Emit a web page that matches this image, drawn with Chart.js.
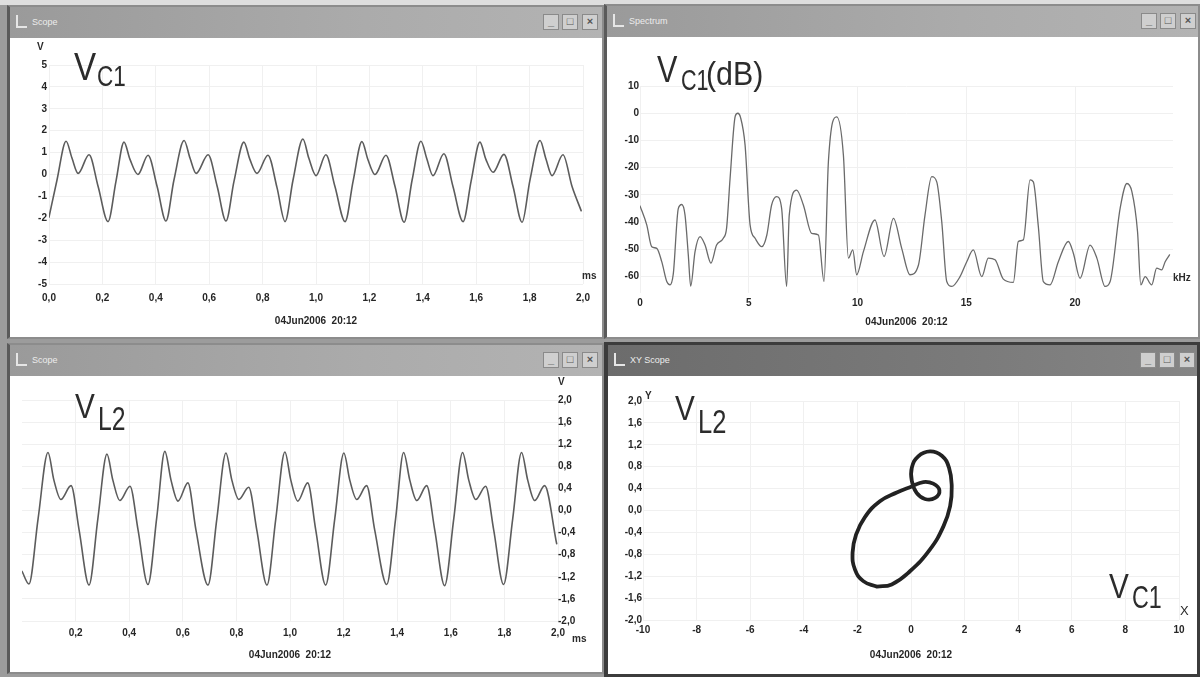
<!DOCTYPE html>
<html>
<head>
<meta charset="utf-8">
<title>Scope windows</title>
<script src="https://cdn.jsdelivr.net/npm/chart.js@4.4.1/dist/chart.umd.min.js"></script>
<style>
  html, body { margin: 0; padding: 0; }
  body { width: 1200px; height: 677px; position: relative; overflow: hidden; background: #9c9c9c;
         font-family: "Liberation Sans", Arial, sans-serif; }
  .strip { position: absolute; left: 0; top: 0; width: 1200px; height: 5px; background: #dedede; }
  .win { position: absolute; box-sizing: border-box; background: #fff; border: 2px solid #8c8c8c; border-left: 3px solid #5a5a5a; }
  .win.active { border: 3px solid #3c3c3c; border-left-width: 4px; }
  .bar { position: absolute; left: 0; right: 0; top: 0; height: 31px;
         background: linear-gradient(to right, #9a9a9a, #ababab 60%, #b3b3b3); }
  .active .bar { background: linear-gradient(to right, #6c6c6c, #7a7a7a 60%, #858585); }
  .bar .name { position: absolute; left: 22px; top: 10px; font-size: 9px; color: #ececec; }
  .bar .ico { position: absolute; left: 6px; top: 8px; width: 9px; height: 11px; border-left: 2px solid #e6e6e6; border-bottom: 2px solid #e6e6e6; }
  .btn { position: absolute; top: 7px; width: 16px; height: 16px; box-sizing: border-box; background: #cfcfcf;
         border: 1px solid #8a8a8a; font-size: 11px; line-height: 13px; text-align: center; color: #555; font-weight: bold; }
  canvas { position: absolute; }
  .big { position: absolute; line-height: 1; color: #2c2c2c; transform-origin: 0 0; white-space: nowrap; }
  .unit { position: absolute; font-size: 10px; font-weight: bold; color: #2a2a2a; line-height: 1; }
</style>
</head>
<body>
<div class="strip"></div>

<div class="win" style="left:7px;top:5px;width:597px;height:334px">
  <div class="bar"><span class="ico"></span><span class="name">Scope</span>
    <span class="btn" style="right:43px">_</span><span class="btn" style="right:24px">□</span><span class="btn" style="right:4px">×</span></div>
</div>
<div class="win" style="left:604px;top:4px;width:596px;height:335px">
  <div class="bar"><span class="ico"></span><span class="name">Spectrum</span>
    <span class="btn" style="right:41px">_</span><span class="btn" style="right:22px">□</span><span class="btn" style="right:2px">×</span></div>
</div>
<div class="win" style="left:7px;top:343px;width:597px;height:331px">
  <div class="bar"><span class="ico"></span><span class="name">Scope</span>
    <span class="btn" style="right:43px">_</span><span class="btn" style="right:24px">□</span><span class="btn" style="right:4px">×</span></div>
</div>
<div class="win active" style="left:604px;top:342px;width:596px;height:335px">
  <div class="bar"><span class="ico"></span><span class="name">XY Scope</span>
    <span class="btn" style="right:41px">_</span><span class="btn" style="right:22px">□</span><span class="btn" style="right:2px">×</span></div>
</div>

<canvas id="vc1" width="590" height="297" style="left:10px;top:38px"></canvas>
<canvas id="spectrum" width="590" height="297" style="left:608px;top:38px"></canvas>
<canvas id="vl2" width="590" height="296" style="left:10px;top:375px"></canvas>
<canvas id="xy" width="590" height="296" style="left:608px;top:376px"></canvas>

<!-- trace names -->
<div class="big" style="left:74px;top:47px;font-size:39px;transform:scaleX(0.85)">V</div>
<div class="big" style="left:97px;top:61px;font-size:30px;transform:scaleX(0.75)">C1</div>

<div class="big" style="left:657px;top:52px;font-size:36px;transform:scaleX(0.85)">V</div>
<div class="big" style="left:681px;top:65px;font-size:30px;transform:scaleX(0.72)">C1</div>
<div class="big" style="left:706px;top:57px;font-size:33px;transform:scaleX(0.92)">(dB)</div>

<div class="big" style="left:75px;top:388px;font-size:35px;transform:scaleX(0.85)">V</div>
<div class="big" style="left:98px;top:402px;font-size:33px;transform:scaleX(0.75)">L2</div>

<div class="big" style="left:675px;top:390px;font-size:35px;transform:scaleX(0.85)">V</div>
<div class="big" style="left:698px;top:404px;font-size:34px;transform:scaleX(0.75)">L2</div>
<div class="big" style="left:1109px;top:568px;font-size:35px;transform:scaleX(0.85)">V</div>
<div class="big" style="left:1132px;top:582px;font-size:31px;transform:scaleX(0.75)">C1</div>

<!-- axis units -->
<div class="unit" style="left:37px;top:42px">V</div>
<div class="unit" style="left:582px;top:271px">ms</div>
<div class="unit" style="left:1173px;top:273px">kHz</div>
<div class="unit" style="left:558px;top:377px">V</div>
<div class="unit" style="left:572px;top:634px">ms</div>
<div class="unit" style="left:645px;top:391px">Y</div>
<div class="unit" style="left:1180px;top:604px;font-size:13px;font-weight:normal">X</div>

<script>
const stamp = '04Jun2006  20:12';

// V(C1) against time, ms / V
const vc1Time = [0.000,
  0.030, 0.064, 0.086, 0.109, 0.150, 0.184, 0.221,
  0.251, 0.281, 0.303, 0.333, 0.371, 0.405, 0.438,
  0.468, 0.506, 0.528, 0.551, 0.596, 0.630, 0.663,
  0.693, 0.730, 0.752, 0.779, 0.820, 0.854, 0.884,
  0.914, 0.951, 0.973, 1.000, 1.037, 1.071, 1.109,
  1.139, 1.172, 1.194, 1.221, 1.262, 1.296, 1.330,
  1.360, 1.393, 1.415, 1.438, 1.479, 1.513, 1.551,
  1.581, 1.614, 1.636, 1.663, 1.704, 1.738, 1.772,
  1.801, 1.839, 1.861, 1.884, 1.925, 1.959, 1.993];
const vc1Volts = [-1.95,
  -0.25, 1.52, 0.75, 0.05, 0.90, -0.55, -2.15,
  -0.30, 1.48, 0.70, 0.00, 0.88, -0.55, -2.12,
  -0.25, 1.55, 0.75, 0.05, 0.90, -0.55, -2.12,
  -0.30, 1.48, 0.70, 0.05, 0.88, -0.60, -2.15,
  -0.25, 1.62, 0.75, -0.05, 0.90, -0.55, -2.15,
  -0.30, 1.50, 0.70, 0.00, 0.88, -0.55, -2.18,
  -0.25, 1.52, 0.72, -0.05, 0.95, -0.55, -2.15,
  -0.30, 1.48, 0.70, 0.10, 0.92, -0.55, -2.18,
  -0.28, 1.55, 0.72, -0.05, 0.90, -0.55, -1.65];

// spectrum of V(C1), kHz / dB
const spectrumKHz = [0.00, 0.31, 0.54, 0.77, 1.00, 1.23, 1.38, 1.53, 1.76, 1.92,
  2.07, 2.22, 2.33, 2.53, 2.76, 2.99, 3.26, 3.52, 3.83, 3.98,
  4.14, 4.38, 4.50, 4.62, 4.83, 5.06, 5.29, 5.60, 5.83, 6.05,
  6.28, 6.51, 6.74, 6.86, 7.20, 7.51, 7.89, 8.20, 8.46, 8.66,
  9.04, 9.35, 9.58, 9.78, 9.96, 10.27, 10.80, 11.22, 11.65, 12.03,
  12.41, 12.80, 13.10, 13.41, 13.64, 13.87, 14.10, 14.33, 14.71, 15.02,
  15.32, 15.71, 16.01, 16.32, 16.70, 17.16, 17.39, 17.62, 17.93, 18.08,
  18.31, 18.54, 18.85, 19.23, 19.69, 19.92, 20.23, 20.69, 21.00, 21.38,
  21.61, 22.07, 22.38, 22.61, 22.87, 23.02, 23.22, 23.52, 23.75, 23.98,
  24.14, 24.34];
const spectrumDb = [-34, -41, -49, -49.6, -54.5, -61.8, -63, -59, -35, -33.5,
  -37.4, -52, -63.5, -50.8, -45.3, -48.4, -55, -48.4, -45.9, -42.2,
  -24, -1, 0, -1.5, -11.7, -41, -45.9, -49, -44.7, -33.7,
  -30.6, -34.9, -63.6, -37.4, -28.2, -33.7, -44.1, -44.7, -61.8, -17.8,
  -1.3, -15.4, -53.2, -50.2, -59.3, -50.8, -39.2, -52.6, -38.6, -49.6,
  -59.3, -55.7, -37.4, -23.3, -25.2, -39.8, -61.8, -63.6, -60, -54.5,
  -50.2, -60, -53.2, -53.8, -60.9, -62.1, -47.1, -46.5, -24.5, -25.2,
  -41.6, -61.8, -63, -54.5, -47.1, -51.4, -60.6, -48.4, -53.2, -63.6,
  -61.8, -34.9, -25.8, -28.8, -43.5, -63, -60, -63, -56.9, -57.5,
  -54.5, -52];

// V(L2) against time, ms / V
const vl2Time = [0.000, 0.026,
  0.060, 0.097, 0.119, 0.145, 0.183, 0.213, 0.250,
  0.283, 0.317, 0.339, 0.365, 0.403, 0.433, 0.470,
  0.503, 0.533, 0.556, 0.582, 0.619, 0.649, 0.694,
  0.727, 0.761, 0.783, 0.809, 0.846, 0.876, 0.914,
  0.947, 0.981, 1.003, 1.029, 1.066, 1.096, 1.133,
  1.167, 1.201, 1.223, 1.249, 1.286, 1.316, 1.361,
  1.394, 1.424, 1.447, 1.473, 1.510, 1.540, 1.577,
  1.611, 1.644, 1.667, 1.693, 1.730, 1.760, 1.797,
  1.831, 1.864, 1.887, 1.913, 1.950, 1.995];
const vl2Volts = [-1.10, -1.33,
  -0.15, 1.05, 0.55, 0.20, 0.45, -0.35, -1.35,
  -0.15, 1.02, 0.55, 0.18, 0.44, -0.35, -1.34,
  -0.12, 1.07, 0.55, 0.17, 0.50, -0.35, -1.35,
  -0.15, 1.04, 0.55, 0.20, 0.42, -0.35, -1.35,
  -0.15, 1.06, 0.55, 0.17, 0.50, -0.35, -1.35,
  -0.15, 1.04, 0.55, 0.20, 0.45, -0.35, -1.34,
  -0.15, 1.05, 0.55, 0.18, 0.45, -0.35, -1.36,
  -0.15, 1.05, 0.55, 0.20, 0.44, -0.35, -1.34,
  -0.15, 1.05, 0.55, 0.18, 0.45, -0.60];

// XY trace: V(C1) on X, V(L2) on Y, one closed loop
const xyVc1 = [-1.28, -1.78, -2.09, -2.18, -2.05, -1.72, -1.16, -0.53, 0.03, 0.46,
  0.83, 1.06, 0.90, 0.52, 0.21, 0.03, 0.03, 0.27, 0.71, 1.15,
  1.42, 1.52, 1.46, 1.21, 0.71, -0.04, -0.72, -1.28];
const xyVl2 = [-1.39, -1.29, -1.08, -0.77, -0.44, -0.12, 0.17, 0.33, 0.44, 0.52,
  0.49, 0.37, 0.23, 0.21, 0.32, 0.54, 0.78, 0.99, 1.08, 1.00,
  0.78, 0.44, 0.08, -0.29, -0.71, -1.11, -1.35, -1.39];

// tick values
const msTicks = [0, 0.2, 0.4, 0.6, 0.8, 1.0, 1.2, 1.4, 1.6, 1.8, 2.0];
const vc1Ticks = [-5, -4, -3, -2, -1, 0, 1, 2, 3, 4, 5];
const khzTicks = [0, 5, 10, 15, 20];
const dbTicks = [-60, -50, -40, -30, -20, -10, 0, 10];
const vl2MsTicks = [0.2, 0.4, 0.6, 0.8, 1.0, 1.2, 1.4, 1.6, 1.8, 2.0];
const vl2Ticks = [-2.0, -1.6, -1.2, -0.8, -0.4, 0.0, 0.4, 0.8, 1.2, 1.6, 2.0];
const xyXTicks = [-10, -8, -6, -4, -2, 0, 2, 4, 6, 8, 10];
const xyYTicks = [-2.0, -1.6, -1.2, -0.8, -0.4, 0.0, 0.4, 0.8, 1.2, 1.6, 2.0];

const gridColor = '#f0f0f0';
const inkColor = '#262626';
const smallFont = { family: '"Liberation Sans", Arial, sans-serif', size: 10, weight: 'bold' };

const comma = v => v.toFixed(1).replace('.', ',');
const whole = v => String(Math.round(v));

function drawScope(id, o) {
  const points = o.xs.map((x, i) => ({ x: x, y: o.ys[i] }));
  return new Chart(document.getElementById(id), {
    type: 'scatter',
    data: {
      datasets: [{
        data: points,
        showLine: true,
        pointRadius: 0,
        borderColor: o.color,
        borderWidth: o.width,
        tension: o.tension || 0,
        cubicInterpolationMode: o.monotone ? 'monotone' : 'default',
        borderJoinStyle: 'round',
        borderCapStyle: 'round'
      }]
    },
    options: {
      responsive: false,
      animation: false,
      events: [],
      layout: { padding: o.pad },
      plugins: { legend: { display: false }, tooltip: { enabled: false } },
      scales: {
        x: {
          type: 'linear', min: o.xMin, max: o.xMax,
          afterBuildTicks: s => { s.ticks = o.xTicks.map(v => ({ value: v })); },
          afterFit: s => { s.height = o.xH; },
          grid: { color: gridColor, drawTicks: false },
          border: { display: false },
          ticks: { font: smallFont, color: inkColor, padding: o.xPad, maxRotation: 0, autoSkip: false, callback: o.xFmt },
          title: { display: true, text: stamp, font: smallFont, color: inkColor, padding: { top: 0, bottom: o.stampPad } }
        },
        y: {
          type: 'linear', position: o.yPos || 'left', min: o.yMin, max: o.yMax,
          afterBuildTicks: s => { s.ticks = o.yTicks.map(v => ({ value: v })); },
          afterFit: s => { s.width = o.yW; },
          grid: { color: gridColor, drawTicks: false },
          border: { display: false },
          ticks: { font: smallFont, color: inkColor, padding: o.yPad, autoSkip: false, callback: o.yFmt }
        }
      }
    }
  });
}

drawScope('vc1', {
  xs: vc1Time, ys: vc1Volts, color: '#5c5c5c', width: 1.6, monotone: true,
  xMin: 0, xMax: 2, xTicks: msTicks, xFmt: comma, xH: 51, xPad: 8, stampPad: 8,
  yMin: -5, yMax: 5, yTicks: vc1Ticks, yFmt: whole, yW: 39, yPad: 2,
  pad: { left: 0, top: 27, right: 17, bottom: 0 }
});

drawScope('spectrum', {
  xs: spectrumKHz, ys: spectrumDb, color: '#6a6a6a', width: 1.3, monotone: true,
  xMin: 0, xMax: 24.5, xTicks: khzTicks, xFmt: whole, xH: 42, xPad: 4, stampPad: 7,
  yMin: -66, yMax: 10, yTicks: dbTicks, yFmt: whole, yW: 32, yPad: 1,
  pad: { left: 0, top: 48, right: 25, bottom: 0 }
});

drawScope('vl2', {
  xs: vl2Time, ys: vl2Volts, color: '#5c5c5c', width: 1.6, monotone: true,
  xMin: 0, xMax: 2, xTicks: vl2MsTicks, xFmt: comma, xH: 50, xPad: 6, stampPad: 10,
  yMin: -2, yMax: 2, yTicks: vl2Ticks, yFmt: comma, yW: 42, yPad: 0, yPos: 'right',
  pad: { left: 12, top: 25, right: 0, bottom: 0 }
});

drawScope('xy', {
  xs: xyVc1, ys: xyVl2, color: '#222222', width: 3.8, tension: 0.45,
  xMin: -10, xMax: 10, xTicks: xyXTicks, xFmt: whole, xH: 52, xPad: 4, stampPad: 11,
  yMin: -2, yMax: 2, yTicks: xyYTicks, yFmt: comma, yW: 35, yPad: 1,
  pad: { left: 0, top: 25, right: 19, bottom: 0 }
});
</script>
</body>
</html>
